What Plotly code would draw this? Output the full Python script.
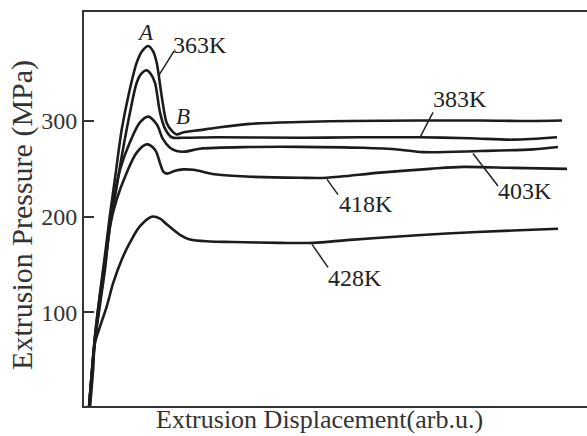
import plotly.graph_objects as go

# Extrusion displacement (arb.u.) and pressure (MPa)
x_363 = [5, 11, 16, 21, 26, 31, 37.7, 44.3, 52.7, 58, 64.3, 69, 72.7, 77.7, 82.7, 87.7, 92.7, 99, 116, 132.7, 166, 216, 266, 336, 396, 446, 478]
y_363 = [0, 75, 120, 160, 202, 240, 291, 326, 361, 373, 378.5, 373, 361, 326, 298, 290, 286, 288, 290.5, 293, 297, 299, 300, 300.5, 300.5, 300, 300.5]

x_383 = [5, 11, 16, 21, 26, 31, 37.7, 46, 52.7, 57, 62.7, 67, 71, 76, 81, 87.7, 99, 132.7, 216, 276, 336, 386, 429, 473]
y_383 = [0, 75, 118, 155, 195, 221, 263, 309, 340, 349, 353, 349, 340, 309, 292, 283, 282.5, 283, 282.5, 283, 283, 282, 280.5, 283]

x_403 = [5, 11, 16, 21, 26, 29, 36, 46, 56, 64.3, 72.7, 79, 86, 92.7, 101, 116, 166, 216, 279, 316, 339, 396, 449, 474]
y_403 = [0, 72, 112, 150, 190, 214, 249, 278, 298.6, 304.6, 296.5, 281, 272, 268.6, 268, 271, 272.8, 273, 272, 270, 267.5, 268.6, 270.4, 272.8]

x_418 = [5, 11, 16, 21, 26, 32.7, 42.7, 52.7, 62.7, 71, 76, 79.3, 83, 91, 99.3, 109.3, 132.7, 166, 216, 243, 296, 346, 379, 429, 483]
y_418 = [0, 70, 108, 145, 190, 218, 246, 267, 275.6, 270, 256, 247, 245, 248, 249.4, 249, 244, 241.8, 240.7, 240.7, 246, 250, 252, 251, 250]

x_428 = [6, 9, 11, 16, 22.7, 29.3, 37.7, 46, 56, 67.7, 76, 82.7, 96, 106, 126, 149, 196, 229, 262.7, 296, 362.7, 429, 474]
y_428 = [0, 38, 68, 85, 106, 131, 155, 173, 190, 200, 198, 192, 181, 176, 174, 173.5, 172.6, 172.6, 175.5, 178, 182.4, 185.5, 187.3]

series = [("363K", x_363, y_363), ("383K", x_383, y_383), ("403K", x_403, y_403),
          ("418K", x_418, y_418), ("428K", x_428, y_428)]

y_ticks = [100, 200, 300]

FONT = "Liberation Serif"
INK = "#1c1c1c"

fig = go.Figure()
for name, xs, ys in series:
    fig.add_trace(go.Scatter(x=xs, y=ys, mode="lines", name=name,
                             line=dict(color=INK, width=2.6, shape="spline", smoothing=0.9),
                             showlegend=False, hoverinfo="skip"))

# labels: (text, x, y, leader from (x0,y0) to (x1,y1))
labels = [
    ("363K", 116, 380, (90, 373), (75, 348)),
    ("383K", 376, 323, (349, 309), (336, 283)),
    ("403K", 441, 227, (389, 266), (414, 232)),
    ("418K", 282, 213, (243, 239), (254, 223)),
    ("428K", 271, 136, (228, 171), (244, 147)),
]
for text, lx, ly, p0, p1 in labels:
    fig.add_annotation(x=lx, y=ly, text=text, showarrow=False,
                       font=dict(family=FONT, size=24, color="#222"))
    fig.add_shape(type="line", x0=p0[0], y0=p0[1], x1=p1[0], y1=p1[1],
                  line=dict(color="#222", width=1.5))

fig.add_annotation(x=61, y=393, text="<i>A</i>", showarrow=False,
                   font=dict(family=FONT, size=23, color="#222"))
fig.add_annotation(x=99, y=305, text="<i>B</i>", showarrow=False,
                   font=dict(family=FONT, size=23, color="#222"))

# axis titles
fig.add_annotation(xref="paper", yref="paper", x=0.469, y=-0.033,
                   text="Extrusion Displacement(arb.u.)", showarrow=False,
                   xanchor="center", yanchor="middle",
                   font=dict(family=FONT, size=26, color="#333"))
fig.add_annotation(xref="paper", yref="paper", x=-0.1233, y=0.485,
                   text="Extrusion Pressure (MPa)", showarrow=False, textangle=-90,
                   xanchor="center", yanchor="middle",
                   font=dict(family=FONT, size=30, color="#333"))

fig.update_layout(
    width=587, height=436,
    margin=dict(l=84, r=0, t=12, b=30),
    paper_bgcolor="white", plot_bgcolor="white",
    font=dict(family=FONT, color="#222"),
    xaxis=dict(range=[0, 503], showgrid=False, zeroline=False, showticklabels=False,
               ticks="", showline=True, linecolor="#333", linewidth=2, mirror=True),
    yaxis=dict(range=[2, 414], showgrid=False, zeroline=False,
               tickvals=y_ticks, ticks="inside", ticklen=10, tickwidth=1.5, tickcolor="#333",
               tickfont=dict(family=FONT, size=24, color="#333"),
               showline=True, linecolor="#333", linewidth=2, mirror=False),
)

fig.write_html("out.html")
